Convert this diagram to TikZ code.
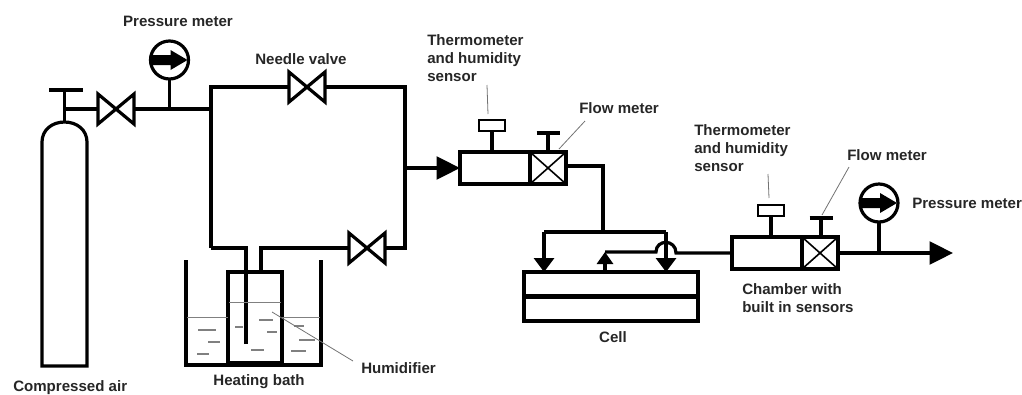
\documentclass[tikz,border=0pt]{standalone}
\usepackage{fontspec}
\setmainfont{Liberation Sans}
\usepackage{tikz}
\usetikzlibrary{arrows.meta, positioning}
\def\px{0.75pt}

\tikzset{
    pipe/.style={line width=2.4pt, line join=miter},
    leader/.style={line width=0.6pt, black!55},
    level/.style={line width=0.7pt, black!50},
    label/.style={font=\fontsize{11.3}{13.5}\selectfont\bfseries, text=black!85, inner sep=0pt, align=left},
    chamberbox/.style={draw, line width=2.4pt, minimum width=106*\px, minimum height=32*\px, inner sep=0pt, outer sep=0pt},
    gauge/.style={draw, circle, line width=2.4pt, minimum size=38*\px, inner sep=0pt, outer sep=0pt},
    bigtip/.style={-{Triangle[length=17.5pt, width=17pt]}},
    downtip/.style={-{Triangle[length=10.5pt, width=15pt]}},
    uptip/.style={-{Triangle[length=9pt, width=12pt]}},
    valve/.pic={
        \draw[pipe] (-18,-15) -- (-18,15) -- (18,-15) -- (18,15) -- cycle;
        \coordinate (-w) at (-18,0);
        \coordinate (-e) at (18,0);
    },
    dial/.pic={
        \fill (-19,-5) -- (1,-5) -- (1,-10) -- (18,0) -- (1,10) -- (1,5) -- (-19,5) -- cycle;
    },
    sensor/.pic={
        \draw[pipe] (0,0) -- (0,-21);
        \draw[line width=1.8pt, fill=white] (-13,-21) rectangle (13,-32);
    },
    handle/.pic={
        \draw[pipe] (0,0) -- (0,-19);
        \draw[pipe] (-11.5,-19) -- (11.5,-19);
    },
    crossbox/.pic={
        \draw[pipe] (-18,-16) rectangle (18,16);
        \draw[line width=1.2pt] (-18,-16) -- (18,16);
        \draw[line width=1.2pt] (-18,16) -- (18,-16);
    },
}

\begin{document}
\begin{tikzpicture}[x=\px, y=-\px]
    \useasboundingbox (0,0) rectangle (1022,394); % Khung hình

    % Named points of the pipework
    \coordinate (topL) at (211,87);
    \coordinate (topR) at (405,87);
    \coordinate (botL) at (211,248);
    \coordinate (botR) at (405,248);
    \coordinate (tee) at (211,109);
    \coordinate (midR) at (405,168);
    \coordinate (neck) at (64.5,109);
    \coordinate (capT) at (64.5,90);
    \coordinate (dipT) at (246,248);
    \coordinate (dipB) at (246,344);
    \coordinate (ventT) at (261,248);
    \coordinate (ventB) at (261,272);
    \coordinate (outK) at (603,166);
    \coordinate (split) at (603,232);
    \coordinate (splitL) at (544,232);
    \coordinate (splitR) at (666,232);
    \coordinate (retA) at (605,252);
    \coordinate (humPt) at (272,312);

    % Compressed air bottle
    \draw[pipe] (42,366) -- (42,142) .. controls (42,130) and (52,122) .. (64.5,122)
        .. controls (77,122) and (87,130) .. (87,142) -- (87,366) -- cycle;
    \draw[pipe] (64.5,122) -- (capT);
    \draw[pipe] (49,90) -- (83,90);

    % Valves and pressure meters
    \pic (vA) at (116,109) {valve};
    \pic (vB) at (307,87) {valve};
    \pic (vC) at (367,248) {valve};
    \node[gauge] (pmA) at (169.5,60) {};
    \node[gauge] (pmB) at (879,203) {};
    \pic at (pmA) {dial};
    \pic at (pmB) {dial};
    \coordinate (pmAf) at (pmA |- tee);

    % Pipes of the first branch
    \draw[pipe] (neck) -- (vA-w);
    \draw[pipe] (vA-e) -- (tee);
    \draw[pipe] (pmA) ++(0,19) -- (pmAf);
    \draw[pipe] (botL) -- (topL) -- (vB-w);
    \draw[pipe] (vB-e) -- (topR) -- (botR) -- (vC-e);
    \draw[pipe] (vC-w) -- (ventT) -- (ventB);
    \draw[pipe] (dipB) -- (dipT) -- (botL);

    % Heating bath and humidifier
    \draw[pipe] (186,260) -- (186,365) -- (321,365) -- (321,260);
    \draw[pipe] (228,272) rectangle (282,363);
    \fill (228,361) rectangle (282,366);
    \draw[level] (187,317) -- (228,317);
    \draw[level] (282,317) -- (320,317);
    \draw[level] (229,302) -- (281,302);
    \foreach \xa/\xb/\yy in {198/216/330, 208/220/342, 197/209/354, 235/243/327, 259/273/320,
        267/277/332, 251/264/350, 294/304/326, 299/315/340, 291/306/351}
        \draw[level, line width=0.9pt] (\xa,\yy) -- (\xb,\yy);

    % First chamber
    \node[chamberbox] (chamA) at (513,168) {};
    \pic at (548,168) {crossbox};
    \pic at (492,152) {sensor};
    \pic at (548,152) {handle};
    \coordinate (chamAe) at (chamA.east |- outK);
    \draw[pipe, bigtip] (midR) -- (chamA.west);
    \draw[pipe] (chamAe) -- (outK) -- (split);

    % Feed to the cell
    \node[draw, line width=2.4pt, minimum width=174*\px, minimum height=49*\px, inner sep=0pt, outer sep=0pt] (cell) at (611,296.5) {};
    \draw[line width=3.6pt] (cell.west) -- (cell.east);
    \coordinate (cellL) at (cell.north -| splitL);
    \coordinate (cellR) at (cell.north -| splitR);
    \coordinate (cellM) at (cell.north -| retA);
    \draw[pipe] (cellL |- split) -- (splitR);
    \draw[pipe, downtip] (splitL) -- (cellL);
    \draw[pipe, downtip] (splitR) -- (cellR);
    \draw[pipe, uptip] (cellM) -- (retA);

    % Second chamber
    \node[chamberbox] (chamB) at (785,253) {};
    \pic at (820,253) {crossbox};
    \pic at (771,237) {sensor};
    \pic at (821,237) {handle};
    \coordinate (exit) at (953,253);
    \draw[pipe] (retA) -- (656,252) .. controls (656,239) and (676,239) .. (676,253) -- (chamB.west);
    \draw[pipe, bigtip] (chamB.east) -- (exit);
    \draw[pipe] (pmB) ++(0,19) -- (pmB |- exit);

    % Labels
    \node[label, anchor=center] (lblPmA) at (178,21) {Pressure meter};
    \node[label, anchor=center] (lblNeedle) at (301,59) {Needle valve};
    \node[label, anchor=west] (lblThA) at (427,58) {Thermometer\\and humidity\\sensor};
    \node[label, anchor=west] (lblFlA) at (579,108) {Flow meter};
    \node[label, anchor=west] (lblThB) at (694,148) {Thermometer\\and humidity\\sensor};
    \node[label, anchor=west] (lblFlB) at (847,155) {Flow meter};
    \node[label, anchor=west] (lblPmB) at (912,203) {Pressure meter};
    \node[label, anchor=west] (lblCham) at (742,298) {Chamber with\\built in sensors};
    \node[label, anchor=center] (lblCell) at (613,337) {Cell};
    \node[label, anchor=west] (lblHum) at (361,368) {Humidifier};
    \node[label, anchor=center] (lblBath) at (259,382) {Heating bath};
    \node[label, anchor=west] (lblAir) at (13,388) {Compressed air};

    % Leader lines
    \draw[leader] (487,85) -- (488,114);
    \draw[leader] (585,121) -- (559,149);
    \draw[leader] (768,174) -- (769,198);
    \draw[leader] (849,167) -- (822,215);
    \draw[leader] (humPt) -- (353,361);
\end{tikzpicture}
\end{document}
